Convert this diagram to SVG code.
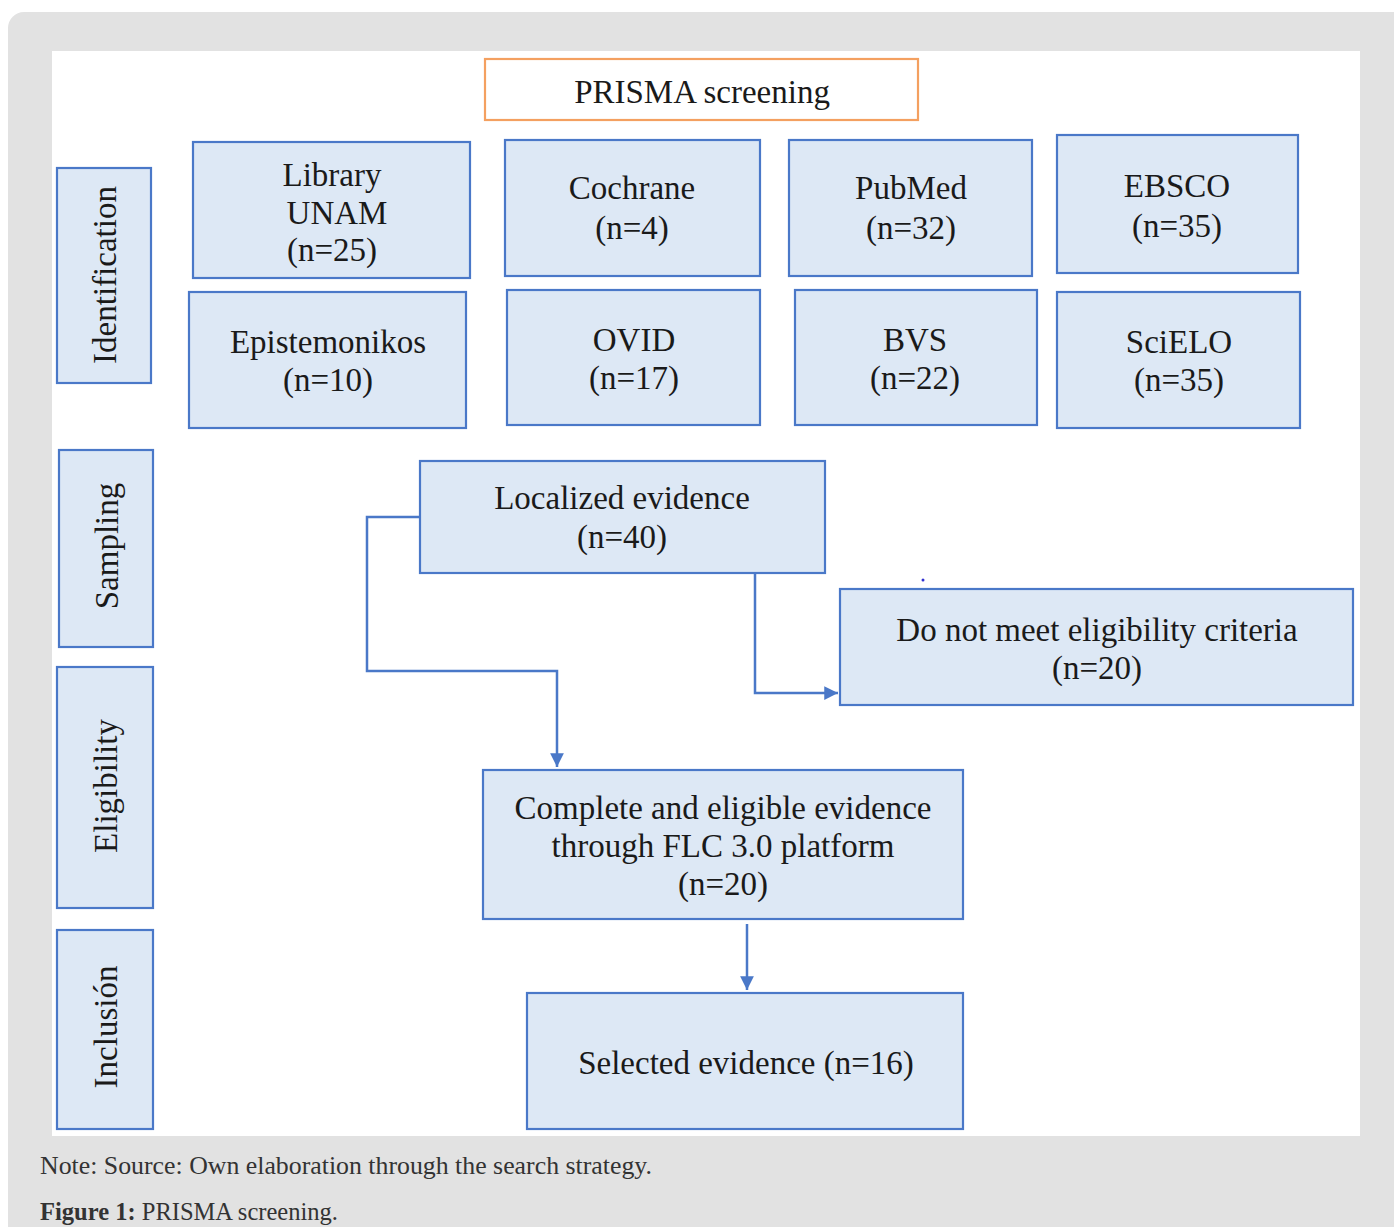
<svg xmlns="http://www.w3.org/2000/svg" width="1394" height="1227" viewBox="0 0 1394 1227">
<style>
.box{fill:#DDE8F5;stroke:#4A78C8;stroke-width:2.2}
.t{font-family:"Liberation Serif","Times New Roman",serif;font-size:33px;fill:#1a1a1a;text-anchor:middle}
.v{font-family:"Liberation Serif","Times New Roman",serif;font-size:33px;fill:#1a1a1a;text-anchor:middle}
.ln{fill:none;stroke:#4A78C8;stroke-width:2.5}
.cap{font-family:"Liberation Serif","Times New Roman",serif;font-size:25px;fill:#333}
</style>
<defs>
<marker id="ah" viewBox="0 0 10 10" refX="10" refY="5" markerWidth="6" markerHeight="5.5" orient="auto" markerUnits="strokeWidth">
<path d="M0,0 L10,5 L0,10 z" fill="#4A78C8"/>
</marker>
</defs>
<rect x="0" y="0" width="1394" height="1227" fill="#ffffff"/>
<rect x="8" y="12" width="1400" height="1230" rx="16" fill="#E2E2E2"/>
<rect x="52" y="51" width="1308" height="1085" fill="#ffffff"/>

<g id="prisma"><rect x="485" y="59" width="433" height="61" fill="#ffffff" stroke="#F4A060" stroke-width="2.2"/><text class="t" x="702" y="103">PRISMA screening</text></g>

<g id="identification"><rect class="box" x="57" y="168" width="94" height="215"/><text class="v" transform="translate(116,275) rotate(-90)">Identification</text></g>
<g id="sampling"><rect class="box" x="59" y="450" width="94" height="197"/><text class="v" transform="translate(118,546) rotate(-90)">Sampling</text></g>
<g id="eligibility"><rect class="box" x="57" y="667" width="96" height="241"/><text class="v" transform="translate(117,786) rotate(-90)">Eligibility</text></g>
<g id="inclusion"><rect class="box" x="57" y="930" width="96" height="199"/><text class="v" transform="translate(117,1027) rotate(-90)">Inclusión</text></g>

<g id="library"><rect class="box" x="193" y="142" width="277" height="136"/><text class="t" x="332" y="186">Library</text><text class="t" x="337" y="224">UNAM</text><text class="t" x="332" y="261">(n=25)</text></g>
<g id="cochrane"><rect class="box" x="505" y="140" width="255" height="136"/><text class="t" x="632" y="199">Cochrane</text><text class="t" x="632" y="239">(n=4)</text></g>
<g id="pubmed"><rect class="box" x="789" y="140" width="243" height="136"/><text class="t" x="911" y="199">PubMed</text><text class="t" x="911" y="239">(n=32)</text></g>
<g id="ebsco"><rect class="box" x="1057" y="135" width="241" height="138"/><text class="t" x="1177" y="197">EBSCO</text><text class="t" x="1177" y="237">(n=35)</text></g>
<g id="epistemonikos"><rect class="box" x="189" y="292" width="277" height="136"/><text class="t" x="328" y="353">Epistemonikos</text><text class="t" x="328" y="391">(n=10)</text></g>
<g id="ovid"><rect class="box" x="507" y="290" width="253" height="135"/><text class="t" x="634" y="351">OVID</text><text class="t" x="634" y="389">(n=17)</text></g>
<g id="bvs"><rect class="box" x="795" y="290" width="242" height="135"/><text class="t" x="915" y="351">BVS</text><text class="t" x="915" y="389">(n=22)</text></g>
<g id="scielo"><rect class="box" x="1057" y="292" width="243" height="136"/><text class="t" x="1179" y="353">SciELO</text><text class="t" x="1179" y="391">(n=35)</text></g>

<g id="localized"><rect class="box" x="420" y="461" width="405" height="112"/><text class="t" x="622" y="509">Localized evidence</text><text class="t" x="622" y="548">(n=40)</text></g>
<g id="excluded"><rect class="box" x="840" y="589" width="513" height="116"/><text class="t" x="1097" y="641">Do not meet eligibility criteria</text><text class="t" x="1097" y="679">(n=20)</text></g>
<g id="complete"><rect class="box" x="483" y="770" width="480" height="149"/><text class="t" x="723" y="819">Complete and eligible evidence</text><text class="t" x="723" y="857">through FLC 3.0 platform</text><text class="t" x="723" y="895">(n=20)</text></g>
<g id="selected"><rect class="box" x="527" y="993" width="436" height="136"/><text class="t" x="746" y="1074">Selected evidence (n=16)</text></g>

<g id="connectors">
<path class="ln" d="M420,517 H367 V671 H557 V767" marker-end="url(#ah)"/>
<path class="ln" d="M755,573 V693 H838" marker-end="url(#ah)"/>
<path class="ln" d="M747,924 V990" marker-end="url(#ah)"/>
<circle cx="923" cy="580" r="1.5" fill="#3030d0"/>
</g>

<text class="cap" x="40" y="1174" textLength="612" lengthAdjust="spacingAndGlyphs">Note: Source: Own elaboration through the search strategy.</text>
<text class="cap" x="40" y="1220" textLength="298" lengthAdjust="spacingAndGlyphs"><tspan font-weight="bold">Figure 1:</tspan> PRISMA screening.</text>
</svg>
